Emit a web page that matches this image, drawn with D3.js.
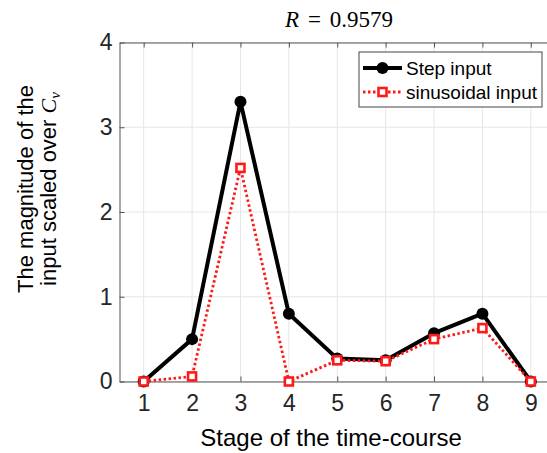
<!DOCTYPE html>
<html>
<head>
<meta charset="utf-8">
<script src="https://cdn.jsdelivr.net/npm/d3@7"></script>
<style>
  body { margin: 0; background: #fff; }
  svg { display: block; font-family: "Liberation Sans", Arial, sans-serif; }
</style>
</head>
<body>
<div id="chart"></div>
<script>
// data
const stages = [1, 2, 3, 4, 5, 6, 7, 8, 9];
const stepInput = [0, 0.5, 3.3, 0.8, 0.27, 0.25, 0.57, 0.8, 0];
const sinusoidalInput = [0, 0.06, 2.52, 0, 0.25, 0.24, 0.5, 0.63, 0];
const yTicks = [0, 1, 2, 3, 4];

var w = 547, h = 453;
var plotLeft = 119.5, plotTop = 42.5, plotRight = 555, plotBottom = 381.5;

var svg = d3.select("#chart")
    .append("svg")
    .attr("width", w)
    .attr("height", h);

var x = d3.scaleLinear().domain([0.5, 9.5]).range([plotLeft, plotRight]);
var y = d3.scaleLinear().domain([0, 4]).range([plotBottom, plotTop]);

// grid
svg.append("g")
    .selectAll("line")
    .data(stages)
    .join("line")
    .attr("x1", d => x(d)).attr("x2", d => x(d))
    .attr("y1", plotTop).attr("y2", plotBottom)
    .attr("stroke", "#e6e6e6").attr("stroke-width", 1);

svg.append("g")
    .selectAll("line")
    .data(yTicks)
    .join("line")
    .attr("x1", plotLeft).attr("x2", plotRight)
    .attr("y1", d => y(d)).attr("y2", d => y(d))
    .attr("stroke", "#e6e6e6").attr("stroke-width", 1);

// axes (ticks pointing inward, MATLAB style)
var xAxis = svg.append("g")
    .attr("transform", `translate(0, ${plotBottom})`)
    .call(d3.axisBottom(x).tickValues(stages).tickSize(-5).tickPadding(13).tickSizeOuter(0));
var xTop = svg.append("g")
    .attr("transform", `translate(0, ${plotTop})`)
    .call(d3.axisTop(x).tickValues(stages).tickSize(-5).tickFormat("").tickSizeOuter(0));
var yAxis = svg.append("g")
    .attr("transform", `translate(${plotLeft}, 0)`)
    .call(d3.axisLeft(y).tickValues(yTicks).tickFormat(d3.format("d"))
        .tickSize(-5).tickPadding(7).tickSizeOuter(0));

[xAxis, xTop, yAxis].forEach(g => {
    g.selectAll("path.domain").attr("stroke", "#555").attr("stroke-width", 1);
    g.selectAll(".tick line").attr("stroke", "#555");
    g.selectAll("text").attr("fill", "#262626")
        .style("font-family", "'Liberation Sans', Arial, sans-serif")
        .style("font-size", "23px");
});

// series
var line = d3.line().x((d, i) => x(stages[i])).y(d => y(d));

svg.append("path")
    .datum(stepInput)
    .attr("fill", "none")
    .attr("stroke", "#000")
    .attr("stroke-width", 4)
    .attr("stroke-linejoin", "round")
    .attr("d", line);

svg.append("g")
    .selectAll("circle")
    .data(stepInput)
    .join("circle")
    .attr("cx", (d, i) => x(stages[i]))
    .attr("cy", d => y(d))
    .attr("r", 6)
    .attr("fill", "#000");

svg.append("path")
    .datum(sinusoidalInput)
    .attr("fill", "none")
    .attr("stroke", "#ff1a1a")
    .attr("stroke-width", 2.8)
    .attr("stroke-dasharray", "2.5,2.5")
    .attr("d", line);

svg.append("g")
    .selectAll("rect")
    .data(sinusoidalInput)
    .join("rect")
    .attr("x", (d, i) => x(stages[i]) - 4)
    .attr("y", d => y(d) - 4)
    .attr("width", 8)
    .attr("height", 8)
    .attr("fill", "#fff")
    .attr("stroke", "#ff1a1a")
    .attr("stroke-width", 2.6);

// legend
var lg = svg.append("g").attr("transform", "translate(359, 52)");
lg.append("rect")
    .attr("width", 183).attr("height", 55)
    .attr("fill", "#fff").attr("stroke", "#444").attr("stroke-width", 1);
lg.append("line").attr("x1", 4).attr("x2", 43).attr("y1", 16).attr("y2", 16)
    .attr("stroke", "#000").attr("stroke-width", 4);
lg.append("circle").attr("cx", 23.5).attr("cy", 16).attr("r", 6).attr("fill", "#000");
lg.append("line").attr("x1", 4).attr("x2", 43).attr("y1", 40).attr("y2", 40)
    .attr("stroke", "#ff1a1a").attr("stroke-width", 2.8).attr("stroke-dasharray", "2.5,2.5");
lg.append("rect").attr("x", 19.5).attr("y", 36).attr("width", 8).attr("height", 8)
    .attr("fill", "#fff").attr("stroke", "#ff1a1a").attr("stroke-width", 2.6);
lg.append("text").attr("x", 47).attr("y", 23).text("Step input")
    .style("font-size", "19px").attr("fill", "#000");
lg.append("text").attr("x", 47).attr("y", 47).text("sinusoidal input")
    .style("font-size", "19px").attr("fill", "#000");

// title
var title = svg.append("text")
    .attr("x", 339).attr("y", 27)
    .attr("text-anchor", "middle")
    .style("font-family", "'Liberation Serif', 'Times New Roman', serif")
    .style("font-size", "23px")
    .style("word-spacing", "3px")
    .attr("fill", "#000");
title.append("tspan").style("font-style", "italic").text("R");
title.append("tspan").text(" = 0.9579");

// x label
svg.append("text")
    .attr("x", 331).attr("y", 446)
    .attr("text-anchor", "middle")
    .style("font-size", "24px")
    .attr("fill", "#000")
    .text("Stage of the time-course");

// y label (two lines)
var yl = svg.append("g").attr("transform", "translate(33, 189) rotate(-90)");
yl.append("text")
    .attr("text-anchor", "middle")
    .style("font-size", "22px")
    .attr("fill", "#000")
    .text("The magnitude of the");
var yl2 = yl.append("text")
    .attr("y", 23)
    .attr("text-anchor", "middle")
    .style("font-size", "22px")
    .attr("fill", "#000");
yl2.append("tspan").text("input scaled over ");
yl2.append("tspan").style("font-family", "'Liberation Serif', serif").style("font-style", "italic").text("C");
yl2.append("tspan").style("font-family", "'Liberation Serif', serif").style("font-style", "italic")
    .style("font-size", "15px").attr("dy", 4).text("v");
</script>
</body>
</html>
